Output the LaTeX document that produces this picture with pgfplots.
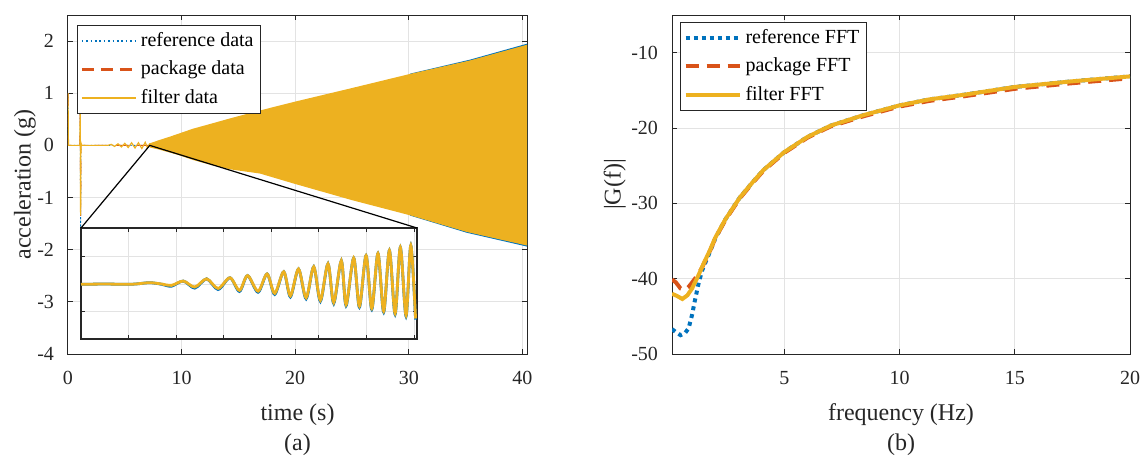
\documentclass[border=0pt]{standalone}
\usepackage{fontspec}
\setmainfont{Liberation Serif}
\usepackage{pgfplots}
\pgfplotsset{compat=1.18}

\definecolor{mblue}{HTML}{0072BD}
\definecolor{mred}{HTML}{D95319}
\definecolor{mgold}{HTML}{EDB120}
\definecolor{mgrid}{HTML}{E3E3E3}
\definecolor{mframe}{HTML}{262626}

\pgfplotsset{
  mlab/.style={
    scale only axis,
    axis line style={mframe, line width=0.5pt},
    tick style={mframe, line width=0.5pt},
    major tick length=2.5pt,
    tick align=inside,
    grid=major,
    major grid style={mgrid, line width=0.5pt},
    ticklabel style={font=\rmfamily\fontsize{10}{12}\selectfont, text=mframe},
    label style={font=\rmfamily\fontsize{12}{14}\selectfont, text=mframe},
    /pgf/number format/assume math mode=true,
    xticklabel style={yshift=-5pt},
    yticklabel style={xshift=-3.5pt},
    legend cell align=left,
    legend image code/.code={\draw[#1] (0pt,0pt) -- (27pt,0pt);},
  },
}

\begin{document}
\begin{tikzpicture}
\useasboundingbox (-34pt,-51pt) rectangle (537pt,177pt);

% (a) time signal
\begin{axis}[mlab, name=A,
  at={(0pt,0pt)}, anchor=south west,
  width=229.5pt, height=169.5pt,
  xmin=0, xmax=40.4, ymin=-4, ymax=2.5,
  xtick={0,10,20,30,40}, ytick={-4,-3,...,2},
  xticklabels={0,10,20,30,40},
  yticklabels={-4,-3,-2,-1,0,1,2},
  xlabel={time (s)}, ylabel={acceleration (g)},
  xlabel style={at={(axis description cs:0.5,-0.178)}, anchor=center},
  ylabel style={at={(axis description cs:-0.094,0.5)}, anchor=center},
  legend style={at={(axis description cs:0.02,0.97)}, anchor=north west,
    draw=mframe, line width=0.5pt, fill=white,
    font=\rmfamily\fontsize{10}{12}\selectfont, inner sep=1.5pt, row sep=1.6pt},
]
\addlegendimage{color=mblue, line width=0.9pt, dash pattern=on 0.8pt off 1.4pt}
\addlegendentry{reference data}
\addlegendimage{mred, line width=1.1pt, dash pattern=on 6pt off 3.5pt}
\addlegendentry{package data}
\addlegendimage{color=mgold, line width=1pt}
\addlegendentry{filter data}

% edge of the reference chirp, just outside the filter band
\addplot[forget plot, fill=mblue, draw=none] coordinates {
  (30.1,1.375) (35.4,1.645) (40.4,1.95)
  (40.4,-1.94) (35.1,-1.675) (30.1,-1.345)
} --cycle;
% envelope of the dense chirp (filter)
\addplot[forget plot, fill=mgold, draw=none] coordinates {
  (7.2,0.04) (8,0.10) (9,0.17) (9.8,0.23) (11,0.32) (12.5,0.41)
  (14.3,0.52) (16.9,0.67) (20,0.84) (25,1.10) (30.1,1.37)
  (35.4,1.63) (40.4,1.93)
  (40.4,-1.92) (35.1,-1.66) (30.1,-1.34) (25,-1.05) (20,-0.74)
  (16.9,-0.54) (14.3,-0.46) (12.5,-0.37) (11,-0.28) (9.8,-0.19)
  (9,-0.14) (8,-0.08) (7.2,-0.04)
} --cycle;

\addplot[forget plot, mblue, line width=0.5pt, dash pattern=on 0.6pt off 1.2pt] coordinates {
  (0,1) (0.04,0) (1.05,0) (1.08,0.9) (1.11,-1.57) (1.14,0) (7.2,0)
};
\addplot[forget plot, mred, line width=0.5pt, dash pattern=on 6.5pt off 4pt] coordinates {
  (0,1) (0.04,0) (1.05,0) (1.08,0.88) (1.11,-1.4) (1.14,0) (7.2,0)
};
\addplot[forget plot, mgold, line width=0.6pt] coordinates {
  (0,1) (0.04,0) (1.05,0) (1.08,0.86) (1.11,-1.34) (1.14,0.05) (1.2,0)
  (3.5,0) (3.8,0.02) (4.1,-0.02) (4.4,0.03) (4.7,-0.03) (5.0,0.04)
  (5.3,-0.04) (5.6,0.05) (5.9,-0.05) (6.2,0.05) (6.5,-0.06) (6.8,0.06)
  (7.0,-0.05) (7.2,0.04)
};
\coordinate (zp) at (axis cs:7.2,0);
\end{axis}

% inset
\begin{axis}[mlab, name=I,
  at={(6.5pt,7.5pt)}, anchor=south west,
  width=168pt, height=55.5pt,
  xmin=0, xmax=7.06, ymin=-2, ymax=2.06,
  xtick={1,...,7}, ytick={-1,0,1},
  xticklabels={}, yticklabels={},
  major tick length=2pt,
  axis line style={mframe, line width=0.8pt},
  axis background/.style={fill=white},
]
\addplot[mblue, line width=1.4pt, smooth] coordinates {
  (0,0) (0.5,0.01) (1.0,0) (1.2,0.02) (1.45,0.06) (1.7,0.0) (1.9,-0.07)
  (2.15,0.12) (2.39,-0.14) (2.64,0.2) (2.88,-0.19) (3.13,0.24) (3.33,-0.26)
  (3.50,0.32) (3.72,-0.29) (3.91,0.38) (4.07,-0.37) (4.26,0.46) (4.40,-0.46)
  (4.57,0.56) (4.73,-0.53) (4.89,0.64) (5.03,-0.62) (5.19,0.75) (5.31,-0.70)
  (5.47,0.86) (5.57,-0.78) (5.73,0.96) (5.85,-0.84) (5.99,1.05) (6.11,-0.92)
  (6.24,1.13) (6.36,-1.02) (6.48,1.24) (6.60,-1.10) (6.71,1.35) (6.83,-1.17)
  (6.93,1.42) (7.03,-1.29)
};
\addplot[mgold, line width=1.4pt, smooth] coordinates {
  (0,0) (0.5,0.01) (1.0,0) (1.2,0.02) (1.45,0.06) (1.7,0.01) (1.9,-0.04)
  (2.15,0.12) (2.39,-0.1) (2.64,0.2) (2.88,-0.15) (3.13,0.24) (3.33,-0.22)
  (3.50,0.32) (3.72,-0.25) (3.91,0.38) (4.07,-0.33) (4.26,0.46) (4.40,-0.42)
  (4.57,0.56) (4.73,-0.49) (4.89,0.64) (5.03,-0.58) (5.19,0.75) (5.31,-0.66)
  (5.47,0.86) (5.57,-0.74) (5.73,0.96) (5.85,-0.80) (5.99,1.05) (6.11,-0.88)
  (6.24,1.13) (6.36,-0.98) (6.48,1.24) (6.60,-1.06) (6.71,1.35) (6.83,-1.13)
  (6.93,1.42) (7.03,-1.25)
};
\end{axis}
\draw[black, line width=0.6pt] (I.north west) -- (zp) -- (I.north east);
\node[font=\rmfamily\fontsize{12}{14}\selectfont, text=mframe] at ([yshift=-45.5pt]A.south) {(a)};

% (b) spectrum
\begin{axis}[mlab, name=B,
  at={(302pt,0pt)}, anchor=south west,
  width=229pt, height=169.5pt,
  xmin=0.13, xmax=20, ymin=-50, ymax=-5,
  xtick={5,10,15,20}, ytick={-50,-40,...,-10},
  xticklabels={5,10,15,20},
  yticklabels={-50,-40,-30,-20,-10},
  xlabel={frequency (Hz)}, ylabel={|G(f)|},
  xlabel style={at={(axis description cs:0.5,-0.178)}, anchor=center},
  ylabel style={at={(axis description cs:-0.125,0.5)}, anchor=center},
  legend style={at={(axis description cs:0.0175,0.979)}, anchor=north west,
    draw=mframe, line width=0.5pt, fill=white,
    font=\rmfamily\fontsize{10}{12}\selectfont, inner sep=1.5pt, row sep=1.6pt},
]
\addplot[mblue, line width=2pt, dash pattern=on 2pt off 2pt] coordinates {
  (0.13,-46.7) (0.3,-47.1) (0.5,-47.5) (0.7,-47.2) (0.85,-46.6) (1.0,-44.8)
  (1.13,-42.8) (1.3,-40.4) (1.45,-38.8) (1.78,-36.4) (2.0,-34.7)
  (2.45,-32.1) (3.08,-29.2) (3.6,-27.3) (4.09,-25.6) (5,-23.2) (6,-21.2)
  (7,-19.7) (8.43,-18.3) (10,-17.0) (11.3,-16.2) (12.77,-15.6) (15,-14.55)
  (17.5,-13.8) (20,-13.15)
};
\addlegendentry{reference FFT}
\addplot[mred, line width=2pt, dash pattern=on 6.5pt off 4pt] coordinates {
  (0.13,-40.1) (0.3,-40.5) (0.5,-41.3) (0.7,-41.5) (0.85,-41.1) (0.98,-40.6)
  (1.2,-39.7) (1.42,-38.6) (1.78,-36.3) (2.0,-34.7) (2.45,-32.2)
  (3.08,-29.3) (3.6,-27.4) (4.09,-25.7) (5,-23.3) (6,-21.3) (7,-19.8)
  (8.43,-18.45) (10,-17.15) (11.3,-16.4) (12.77,-15.8) (15,-14.8)
  (17.5,-14.05) (20,-13.4)
};
\addlegendentry{package FFT}
\addplot[mgold, line width=2pt] coordinates {
  (0.13,-42.0) (0.35,-42.3) (0.58,-42.7) (0.8,-42.2) (1.0,-41.3)
  (1.27,-39.6) (1.5,-38.0) (1.78,-36.2) (2.0,-34.6) (2.45,-32.1)
  (3.08,-29.2) (3.6,-27.3) (4.09,-25.6) (5,-23.2) (6,-21.2) (7,-19.7)
  (8.43,-18.3) (10,-17.0) (11.3,-16.2) (12.77,-15.6) (15,-14.55)
  (17.5,-13.8) (20,-13.15)
};
\addlegendentry{filter FFT}
\end{axis}
\node[font=\rmfamily\fontsize{12}{14}\selectfont, text=mframe] at ([yshift=-45.5pt]B.south) {(b)};
\end{tikzpicture}
\end{document}
